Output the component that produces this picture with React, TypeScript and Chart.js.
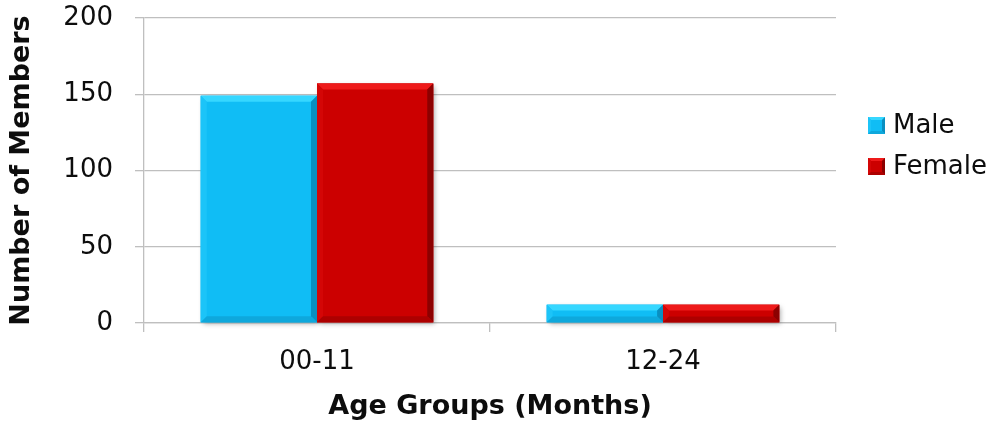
import React, { useEffect, useRef } from "react";
import { Chart, registerables } from "chart.js";

Chart.register(...registerables);

// Member counts per age group
const ageGroups = ["00-11", "12-24"];
const seriesNames = ["Male", "Female"];
const maleCounts = [149, 12];
const femaleCounts = [157, 12];
const yTicks = [0, 50, 100, 150, 200];

const FONT = "'DejaVu Sans', 'Open Sans', sans-serif";
const TEXT = "#0d0d0d";
const GRID = "#bfbfbf";

// Face colour plus bevel shades for each series
const SHADES = [
  { main: "#10bdf5", top: "#36d7ff", left: "#1cc4f8", right: "#0a8fc0", bottom: "#0ea8dc" },
  { main: "#cc0000", top: "#ee1a1a", left: "#d40606", right: "#8c0000", bottom: "#ad0000" },
];

function poly(ctx: CanvasRenderingContext2D, pts: number[][], color: string) {
  ctx.beginPath();
  ctx.moveTo(pts[0][0], pts[0][1]);
  for (let i = 1; i < pts.length; i++) ctx.lineTo(pts[i][0], pts[i][1]);
  ctx.closePath();
  ctx.fillStyle = color;
  ctx.fill();
}

function bevelRect(
  ctx: CanvasRenderingContext2D,
  l: number, t: number, r: number, b: number,
  d: number, s: typeof SHADES[number]
) {
  poly(ctx, [[l, t], [r, t], [r - d, t + d], [l + d, t + d]], s.top);
  poly(ctx, [[l, t], [l + d, t + d], [l + d, b - d], [l, b]], s.left);
  poly(ctx, [[r, t], [r, b], [r - d, b - d], [r - d, t + d]], s.right);
  poly(ctx, [[l, b], [l + d, b - d], [r - d, b - d], [r, b]], s.bottom);
}

function barBox(bar: any) {
  const p = bar.getProps(["x", "y", "base", "width"], true);
  return {
    l: p.x - p.width / 2,
    r: p.x + p.width / 2,
    t: Math.min(p.y, p.base),
    b: Math.max(p.y, p.base),
  };
}

// Soft drop shadow behind the bars
const shadowPlugin = {
  id: "barShadow",
  beforeDatasetsDraw(chart: any) {
    const ctx = chart.ctx as CanvasRenderingContext2D;
    ctx.save();
    ctx.shadowColor = "rgba(0,0,0,0.35)";
    ctx.shadowBlur = 5;
    ctx.shadowOffsetX = 2;
    ctx.shadowOffsetY = 2;
    chart.data.datasets.forEach((_: any, i: number) => {
      chart.getDatasetMeta(i).data.forEach((bar: any) => {
        const { l, r, t, b } = barBox(bar);
        ctx.fillStyle = SHADES[i].main;
        ctx.fillRect(l, t, r - l, b - t);
      });
    });
    ctx.restore();
  },
};

// Bevelled edges over each bar
const bevelPlugin = {
  id: "barBevel",
  afterDatasetsDraw(chart: any) {
    const ctx = chart.ctx as CanvasRenderingContext2D;
    ctx.save();
    chart.data.datasets.forEach((_: any, i: number) => {
      chart.getDatasetMeta(i).data.forEach((bar: any) => {
        const { l, r, t, b } = barBox(bar);
        const d = Math.min(6, (b - t) / 3);
        bevelRect(ctx, l, t, r, b, d, SHADES[i]);
      });
    });
    ctx.restore();
  },
};

// Legend on the right with bevelled swatches
const legendPlugin = {
  id: "sideLegend",
  afterDraw(chart: any) {
    const ctx = chart.ctx as CanvasRenderingContext2D;
    const area = chart.chartArea;
    const box = 17;
    const gap = 41;
    const x0 = area.right + 32;
    const cy = 146;
    const n = chart.data.datasets.length;
    ctx.save();
    ctx.font = `26px ${FONT}`;
    ctx.textBaseline = "middle";
    ctx.textAlign = "left";
    chart.data.datasets.forEach((ds: any, i: number) => {
      const y = cy + (i - (n - 1) / 2) * gap;
      const s = SHADES[i];
      ctx.fillStyle = s.main;
      ctx.fillRect(x0, y - box / 2, box, box);
      bevelRect(ctx, x0, y - box / 2, x0 + box, y + box / 2, 3, s);
      ctx.fillStyle = TEXT;
      ctx.fillText(ds.label, x0 + box + 8, y + 1);
    });
    ctx.restore();
  },
};

export default function App() {
  const canvasRef = useRef<HTMLCanvasElement | null>(null);

  useEffect(() => {
    if (!canvasRef.current) return;
    const chart = new Chart(canvasRef.current, {
      type: "bar",
      data: {
        labels: ageGroups,
        datasets: [
          {
            label: seriesNames[0],
            data: maleCounts,
            backgroundColor: SHADES[0].main,
            borderWidth: 0,
            categoryPercentage: 0.672,
            barPercentage: 1,
          },
          {
            label: seriesNames[1],
            data: femaleCounts,
            backgroundColor: SHADES[1].main,
            borderWidth: 0,
            categoryPercentage: 0.672,
            barPercentage: 1,
          },
        ],
      },
      options: {
        animation: false,
        responsive: true,
        maintainAspectRatio: false,
        layout: { padding: { top: 18, right: 169, left: 0, bottom: 0 } },
        plugins: {
          legend: { display: false },
          tooltip: { enabled: false },
        },
        scales: {
          x: {
            grid: {
              display: true,
              drawOnChartArea: false,
              drawTicks: true,
              tickLength: 9,
              color: GRID,
              lineWidth: 1.3,
              offset: true,
            },
            border: { color: GRID, width: 1.3 },
            ticks: {
              padding: 15,
              color: TEXT,
              font: { family: FONT, size: 26 },
            },
            title: {
              display: true,
              text: "Age Groups (Months)",
              color: TEXT,
              font: { family: FONT, size: 27, weight: "bold" },
              padding: { top: 0, bottom: 0 },
            },
            afterFit: (s: any) => {
              s.height = 100;
              s.paddingLeft = 0;
              s.paddingRight = 0;
            },
          },
          y: {
            min: 0,
            max: 200,
            afterBuildTicks: (s: any) => {
              s.ticks = yTicks.map((v) => ({ value: v }));
            },
            grid: {
              color: GRID,
              lineWidth: 1.3,
              tickLength: 9,
              drawTicks: true,
            },
            border: { color: GRID, width: 1.3 },
            ticks: {
              padding: 22,
              color: TEXT,
              font: { family: FONT, size: 26 },
            },
            title: {
              display: true,
              text: "Number of Members",
              color: TEXT,
              font: { family: FONT, size: 27, weight: "bold" },
              padding: { top: 6, bottom: 0 },
            },
            afterFit: (s: any) => {
              s.width = 144;
              s.paddingTop = 0;
              s.paddingBottom = 0;
            },
          },
        },
      },
      plugins: [shadowPlugin, bevelPlugin, legendPlugin],
    });
    return () => chart.destroy();
  }, []);

  return (
    <div style={{ position: "fixed", left: 0, top: 0, width: 1005, height: 423, background: "#fff" }}>
      <canvas ref={canvasRef} />
    </div>
  );
}
